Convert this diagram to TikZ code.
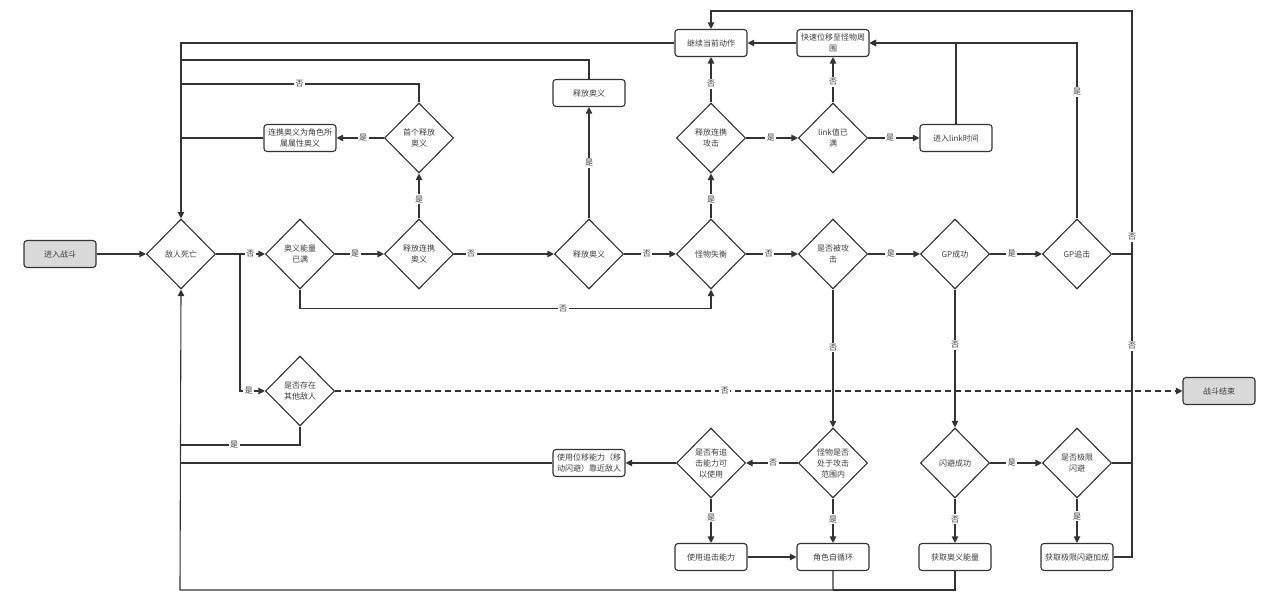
\documentclass[tikz,border=0pt]{standalone}
\usepackage{fontspec}
\setmainfont{Noto Sans CJK SC}
\usetikzlibrary{shapes.geometric,arrows.meta}
\definecolor{lc}{HTML}{333333}
\definecolor{tc}{HTML}{3C3C3C}
\definecolor{gfill}{HTML}{D9D9D9}
\begin{document}
\begin{tikzpicture}[x=1pt,y=-1pt,
  every node/.style={font=\fontsize{8}{11}\selectfont, text=tc},
  dia/.style={draw=lc, line width=1.1pt, diamond, minimum width=69pt, minimum height=70pt, inner sep=0pt, align=center},
  proc/.style={draw=lc, line width=1.1pt, rounded corners=3pt, minimum width=72pt, minimum height=27pt, inner sep=1pt, align=center},
  term/.style={proc, fill=gfill},
  ln/.style={draw=lc, line width=1.1pt},
  arr/.style={ln, -{Triangle[length=6.5pt,width=6.5pt]}},
  dashline/.style={dash pattern=on 6pt off 4pt},
  lbl/.style={fill=white, inner sep=1.5pt}]
\useasboundingbox (0,0) rectangle (1280,601);

% nodes
\node[term] (start) at (60,254) {进入战斗};
\node[dia] (dead) at (181,254) {敌人死亡};
\node[dia] (energy) at (300,254) {奥义能量\\已满};
\node[dia] (chainult) at (419,254) {释放连携\\奥义};
\node[dia] (ultd) at (589,254) {释放奥义};
\node[dia] (imbal) at (711,254) {怪物失衡};
\node[dia] (attacked) at (833,254) {是否被攻\\击};
\node[dia] (gp) at (955,254) {GP成功};
\node[dia] (gpchase) at (1077,254) {GP追击};

\node[dia] (first) at (419,138) {首个释放\\奥义};
\node[proc] (attrult) at (300,138) {连携奥义为角色所\\属属性奥义};
\node[proc] (ultbox) at (589,93) {释放奥义};
\node[dia] (chainatk) at (711,138) {释放连携\\攻击};
\node[dia] (linkfull) at (833,138) {link值已\\满};
\node[proc] (linktime) at (956,138) {进入link时间};
\node[proc] (cont) at (711,43) {继续当前动作};
\node[proc] (fast) at (833,43) {快速位移至怪物周\\围};

\node[dia] (others) at (300,391) {是否存在\\其他敌人};
\node[term] (end) at (1219,391) {战斗结束};

\node[dia] (inrange) at (833,463) {怪物是否\\处于攻击\\范围内};
\node[dia] (chasecap) at (711,463) {是否有追\\击能力可\\以使用};
\node[proc] (moveabil) at (589,463) {使用位移能力（移\\动闪避）靠近敌人};
\node[dia] (dodge) at (955,463) {闪避成功};
\node[dia] (xdodge) at (1077,463) {是否极限\\闪避};

\node[proc] (usechase) at (711,557) {使用追击能力};
\node[proc] (selfloop) at (833,557) {角色自循环};
\node[proc] (getenergy) at (955,557) {获取奥义能量};
\node[proc] (xbonus) at (1077,557) {获取极限闪避加成};

% coordinates for bends
\coordinate (b1) at (240,254);
\coordinate (L1) at (180,84);
\coordinate (L2) at (180,138);
\coordinate (L3) at (180,60);
\coordinate (L4) at (180,445);
\coordinate (L5) at (180,463);
\coordinate (L6) at (180,590);
\coordinate (B1) at (833,590);
\coordinate (top) at (1132,11);
\coordinate (R2) at (1132,254);
\coordinate (R3) at (1132,463);

% connectors
\draw[arr] (start) -- (dead);
\draw[arr] (b1) |- node[lbl,pos=0.68]{是} (others.west);
\draw[arr] (dead.east) -- node[lbl,pos=0.7]{否} (energy.west);
\draw[arr] (energy.east) -- node[lbl,pos=0.41]{是} (chainult.west);
\draw[arr] (energy.south) -- ++(0,19) -| node[lbl,pos=0.32]{否} (imbal.south);
\draw[arr] (chainult.north) -- node[lbl,pos=0.43]{是} (first.south);
\draw[arr] (first.west) -- node[lbl,pos=0.44]{是} (attrult.east);
\draw[ln] (first.north) |- node[lbl,pos=0.75]{否} (L1);
\draw[ln] (attrult.west) -- (L2);
\draw[ln] (ultbox.north) |- (L3);
\draw[arr] (cont.west) -| (dead.north);
\draw[arr] (chainult.east) -- node[lbl,pos=0.17]{否} (ultd.west);
\draw[arr] (ultd.north) -- node[lbl,pos=0.5]{是} (ultbox.south);
\draw[arr] (ultd.east) -- node[lbl,pos=0.44]{否} (imbal.west);
\draw[arr] (imbal.north) -- node[lbl,pos=0.43]{是} (chainatk.south);
\draw[arr] (imbal.east) -- node[lbl,pos=0.44]{否} (attacked.west);
\draw[arr] (chainatk.north) -- node[lbl,pos=0.41]{否} (cont.south);
\draw[arr] (chainatk.east) -- node[lbl,pos=0.48]{是} (linkfull.west);
\draw[arr] (linkfull.north) -- node[lbl,pos=0.46]{否} (fast.south);
\draw[arr] (linkfull.east) -- node[lbl,pos=0.43]{是} (linktime.west);
\draw[arr] (linktime.north) |- (fast.east);
\draw[arr] (gpchase.north) |- node[lbl,pos=0.36]{是} (fast.east);
\draw[arr] (fast.west) -- (cont.east);
\draw[arr] (attacked.east) -- node[lbl,pos=0.44]{是} (gp.west);
\draw[arr] (attacked.south) -- node[lbl,pos=0.42]{否} (inrange.north);
\draw[arr] (gp.east) -- node[lbl,pos=0.42]{是} (gpchase.west);
\draw[arr] (gp.south) -- node[lbl,pos=0.40]{否} (dodge.north);
\draw[ln] (xbonus.east) -| (R3);
\draw[ln] (xdodge.east) -| node[lbl,pos=0.78]{否} (R2);
\draw[arr] (gpchase.east) -| node[lbl,pos=0.535]{否} (top) -| (cont.north);
\draw[arr, dashline] (others.east) -- node[lbl,pos=0.46]{否} (end.west);
\draw[ln] (others.south) |- node[lbl,pos=0.775]{是} (L4);
\draw[arr] (inrange.west) -- node[lbl,pos=0.48]{否} (chasecap.east);
\draw[arr] (inrange.south) -- node[lbl,pos=0.47]{是} (selfloop.north);
\draw[arr] (chasecap.west) -- (moveabil.east);
\draw[arr] (chasecap.south) -- node[lbl,pos=0.42]{是} (usechase.north);
\draw[ln] (moveabil.west) -- (L5);
\draw[arr] (usechase.east) -- (selfloop.west);
\draw[arr] (selfloop.south) |- (L6) -- (dead.south);
\draw[ln] (getenergy.south) |- (B1);
\draw[arr] (dodge.east) -- node[lbl,pos=0.42]{是} (xdodge.west);
\draw[arr] (dodge.south) -- node[lbl,pos=0.47]{否} (getenergy.north);
\draw[arr] (xdodge.south) -- node[lbl,pos=0.4]{是} (xbonus.north);
\end{tikzpicture}
\end{document}
